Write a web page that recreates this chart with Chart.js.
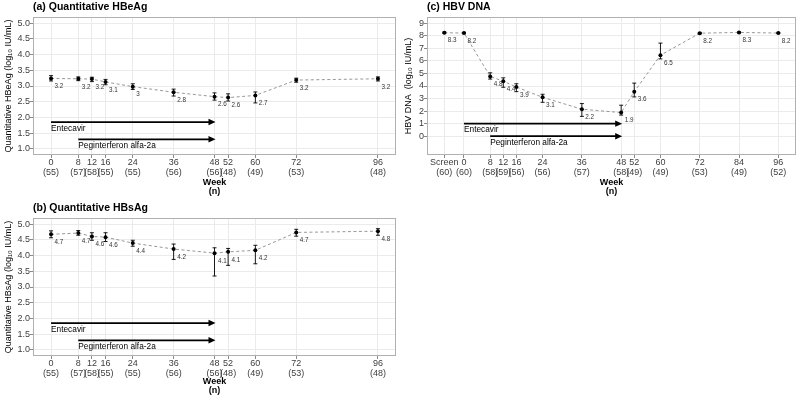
<!DOCTYPE html>
<html>
<head>
<meta charset="utf-8">
<script src="https://cdn.jsdelivr.net/npm/chart.js@4.4.1/dist/chart.umd.min.js"></script>
<style>
  html, body { margin: 0; padding: 0; background: #fff; overflow: hidden; }
  body { width: 800px; height: 399px; position: relative; }
  canvas { position: absolute; }
</style>
</head>
<body>
<canvas id="chartA" width="400" height="200" style="left:0;top:0"></canvas>
<canvas id="chartB" width="400" height="198" style="left:0;top:201px"></canvas>
<canvas id="chartC" width="400" height="200" style="left:400px;top:0"></canvas>
<script>
// ---- weeks / n for HBeAg + HBsAg panels ----
const weeks = [0, 8, 12, 16, 24, 36, 48, 52, 60, 72, 96];
const weekLabels = ['0', '8', '12', '16', '24', '36', '48', '52', '60', '72', '96'];
const weekN = ['(55)', '(57)', '(58)', '(55)', '(55)', '(56)', '(56)', '(48)', '(49)', '(53)', '(48)'];

// (a) quantitative HBeAg, log10 IU/mL
const hbeag = [3.24, 3.23, 3.22, 3.13, 2.98, 2.80, 2.66, 2.63, 2.70, 3.19, 3.23];
const hbeagHi = [3.33, 3.29, 3.28, 3.21, 3.07, 2.90, 2.78, 2.75, 2.81, 3.25, 3.29];
const hbeagLo = [3.16, 3.17, 3.14, 3.04, 2.89, 2.68, 2.55, 2.52, 2.46, 3.12, 3.16];
const hbeagText = ['3.2', '3.2', '3.2', '3.1', '3', '2.8', '2.6', '2.6', '2.7', '3.2', '3.2'];

// (b) quantitative HBsAg
const hbsag = [4.68, 4.72, 4.61, 4.59, 4.40, 4.21, 4.08, 4.12, 4.17, 4.74, 4.78];
const hbsagHi = [4.79, 4.80, 4.73, 4.73, 4.49, 4.37, 4.25, 4.23, 4.33, 4.84, 4.86];
const hbsagLo = [4.57, 4.65, 4.49, 4.45, 4.30, 3.88, 3.35, 3.69, 3.74, 4.62, 4.65];
const hbsagText = ['4.7', '4.7', '4.6', '4.6', '4.4', '4.2', '4.1', '4.1', '4.2', '4.7', '4.8'];

// (c) HBV DNA (screening plotted at week -6)
const dnaWeeks = [-6, 0, 8, 12, 16, 24, 36, 48, 52, 60, 72, 84, 96];
const dnaWeekLabels = ['Screen', '0', '8', '12', '16', '24', '36', '48', '52', '60', '72', '84', '96'];
const dnaN = ['(60)', '(60)', '(58)', '(59)', '(56)', '(56)', '(57)', '(58)', '(49)', '(49)', '(53)', '(49)', '(52)'];
const dna = [8.25, 8.22, 4.76, 4.38, 3.92, 3.10, 2.15, 1.88, 3.55, 6.45, 8.21, 8.27, 8.22];
const dnaHi = [8.30, 8.27, 5.05, 4.65, 4.18, 3.34, 2.60, 2.47, 4.23, 7.42, 8.26, 8.31, 8.26];
const dnaLo = [8.20, 8.17, 4.55, 3.90, 3.55, 2.70, 1.58, 1.68, 3.13, 6.16, 8.16, 8.23, 8.18];
const dnaText = ['8.3', '8.2', '4.8', '4.4', '3.9', '3.1', '2.2', '1.9', '3.6', '6.5', '8.2', '8.3', '8.2'];

// y tick labels
const yTicksAg = [1.0, 1.5, 2.0, 2.5, 3.0, 3.5, 4.0, 4.5, 5.0];
const yTicksDna = [0, 1, 2, 3, 4, 5, 6, 7, 8, 9];

// treatment periods (weeks)
const treatNames = ['Entecavir', 'Peginterferon alfa-2a'];
const treatStart = [0, 8];
const treatEnd = [48, 48];

const FONT = "'Liberation Sans', Arial, Helvetica, sans-serif";
Chart.defaults.font.family = FONT;

// error bars, value labels, arrows, border and panel title
function panelPlugin(p) {
    return {
        id: 'panel',
        beforeDatasetsDraw(chart) {
            const { ctx, scales: { x, y } } = chart;
            ctx.save();
            ctx.strokeStyle = '#000';
            ctx.lineWidth = 0.9;
            p.x.forEach((w, i) => {
                const px = x.getPixelForValue(w);
                const t = y.getPixelForValue(p.hi[i]);
                const b = y.getPixelForValue(p.lo[i]);
                ctx.beginPath();
                ctx.moveTo(px, t); ctx.lineTo(px, b);
                ctx.moveTo(px - 2, t); ctx.lineTo(px + 2, t);
                ctx.moveTo(px - 2, b); ctx.lineTo(px + 2, b);
                ctx.stroke();
            });
            ctx.restore();
        },
        afterDatasetsDraw(chart) {
            const { ctx, scales: { x, y } } = chart;
            ctx.save();
            // value labels
            ctx.font = '6.3px ' + FONT;
            ctx.fillStyle = '#333';
            ctx.textAlign = 'left';
            ctx.textBaseline = 'middle';
            p.x.forEach((w, i) => {
                ctx.fillText(p.text[i], x.getPixelForValue(w) + 3.5, y.getPixelForValue(p.y[i]) + 8);
            });
            // treatment arrows
            ctx.strokeStyle = '#000';
            ctx.fillStyle = '#000';
            ctx.lineWidth = 1.8;
            ctx.font = '8.3px ' + FONT;
            ctx.textBaseline = 'top';
            treatNames.forEach((name, i) => {
                const x0 = x.getPixelForValue(treatStart[i]);
                const x1 = x.getPixelForValue(treatEnd[i]);
                const ay = y.getPixelForValue(p.arrowY[i]);
                ctx.beginPath();
                ctx.moveTo(x0, ay); ctx.lineTo(x1 - 5, ay);
                ctx.stroke();
                ctx.beginPath();
                ctx.moveTo(x1 + 1, ay);
                ctx.lineTo(x1 - 6, ay - 3.2);
                ctx.lineTo(x1 - 6, ay + 3.2);
                ctx.closePath();
                ctx.fill();
                ctx.fillText(name, x0, ay + 2);
            });
            ctx.restore();
        },
        afterDraw(chart) {
            const { ctx, chartArea: a } = chart;
            ctx.save();
            ctx.strokeStyle = '#b0b0b0';
            ctx.lineWidth = 1;
            ctx.strokeRect(a.left + 0.5, a.top + 0.5, a.right - a.left - 1, a.bottom - a.top - 1);
            ctx.font = 'bold 10.5px ' + FONT;
            ctx.fillStyle = '#000';
            ctx.textAlign = 'left';
            ctx.textBaseline = 'middle';
            ctx.fillText(p.title, a.left, 7.5);
            ctx.restore();
        }
    };
}

function makePanel(id, p) {
    const tickFont = { size: 9, lineHeight: 1.05 };
    new Chart(document.getElementById(id), {
        type: 'scatter',
        data: {
            datasets: [{
                data: p.x.map((w, i) => ({ x: w, y: p.y[i] })),
                showLine: true,
                borderColor: '#8c8c8c',
                borderWidth: 0.9,
                borderDash: [3, 2.5],
                pointRadius: 2,
                pointBackgroundColor: '#000',
                pointBorderWidth: 0
            }]
        },
        options: {
            responsive: false,
            animation: false,
            events: [],
            layout: { padding: { left: 0, right: 4, top: 17, bottom: 0 } },
            plugins: { legend: { display: false }, tooltip: { enabled: false }, title: { display: false } },
            scales: {
                x: {
                    type: 'linear',
                    min: p.xMin,
                    max: p.xMax,
                    afterBuildTicks: s => { s.ticks = p.x.map(v => ({ value: v })); },
                    afterFit: s => { s.height = p.xAxisH; },
                    ticks: {
                        autoSkip: false, maxRotation: 0, minRotation: 0, padding: 0,
                        color: '#3d3d3d', font: tickFont,
                        callback: (v, i) => [p.xLabels[i], p.n[i]]
                    },
                    grid: { color: '#ebebeb', lineWidth: 1, tickLength: 3, tickColor: '#8a8a8a' },
                    border: { display: false },
                    title: {
                        display: true, text: ['Week', '(n)'], color: '#000',
                        font: { size: 9, weight: 'bold', lineHeight: 1.05 },
                        padding: { top: 0, bottom: 3.3 }
                    }
                },
                y: {
                    min: p.yMin,
                    max: p.yMax,
                    afterBuildTicks: s => { s.ticks = p.yTicks.map(v => ({ value: v })); },
                    afterFit: s => { s.width = p.yAxisW; },
                    ticks: {
                        padding: 0, color: '#3d3d3d', font: { size: 9 },
                        callback: v => p.yFmt(v)
                    },
                    grid: { color: '#ebebeb', lineWidth: 1, tickLength: 3, tickColor: '#8a8a8a' },
                    border: { display: false },
                    title: {
                        display: true, text: p.yTitle, color: '#000',
                        font: { size: 9 }, padding: { top: 3, bottom: 0 }
                    }
                }
            }
        },
        plugins: [panelPlugin(p)]
    });
}

makePanel('chartA', {
    title: '(a) Quantitative HBeAg',
    yTitle: 'Quantitative HBeAg (log\u2081\u2080 IU/mL)',
    x: weeks, xLabels: weekLabels, n: weekN,
    y: hbeag, hi: hbeagHi, lo: hbeagLo, text: hbeagText,
    xMin: -5.3, xMax: 101.3, yMin: 0.8, yMax: 5.2,
    yTicks: yTicksAg, yFmt: v => v.toFixed(1),
    arrowY: [1.85, 1.3], xAxisH: 45, yAxisW: 33
});

makePanel('chartB', {
    title: '(b) Quantitative HBsAg',
    yTitle: 'Quantitative HBsAg (log\u2081\u2080 IU/mL)',
    x: weeks, xLabels: weekLabels, n: weekN,
    y: hbsag, hi: hbsagHi, lo: hbsagLo, text: hbsagText,
    xMin: -5.3, xMax: 101.3, yMin: 0.8, yMax: 5.2,
    yTicks: yTicksAg, yFmt: v => v.toFixed(1),
    arrowY: [1.85, 1.3], xAxisH: 43, yAxisW: 33
});

makePanel('chartC', {
    title: '(c) HBV DNA',
    yTitle: 'HBV DNA  (log\u2081\u2080 IU/mL)',
    x: dnaWeeks, xLabels: dnaWeekLabels, n: dnaN,
    y: dna, hi: dnaHi, lo: dnaLo, text: dnaText,
    xMin: -11.3, xMax: 101.4, yMin: -1.5, yMax: 9.5,
    yTicks: yTicksDna, yFmt: v => String(v),
    arrowY: [1, 0], xAxisH: 45, yAxisW: 27
});
</script>
</body>
</html>
